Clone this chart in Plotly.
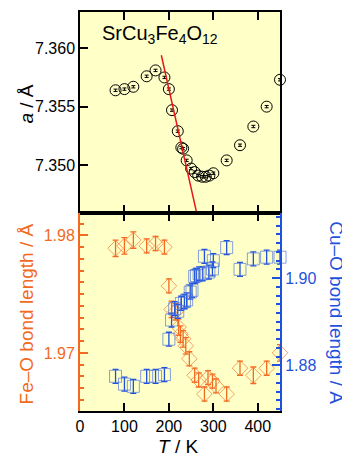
import plotly.graph_objects as go

# ---- data ----
T_a = [80, 100, 120, 150, 170, 190, 200, 207, 220, 228, 232, 240, 250, 258, 266, 275, 283, 291, 300, 330, 360, 390, 420, 450]
a_val = [7.3564, 7.3565, 7.3567, 7.3576, 7.3581, 7.3575, 7.3565, 7.3547, 7.3529, 7.3515, 7.3514, 7.3504,
         7.3497, 7.3494, 7.3491, 7.3490, 7.3490, 7.3491, 7.3493, 7.3504, 7.3517, 7.3533, 7.3550, 7.3573]
a_err = [0.0001] * len(T_a)

fit_T = [183, 262]
fit_a = [7.3594, 7.3460]

T_fe = [80, 100, 120, 150, 170, 190, 200, 206, 215, 222, 226, 232, 238, 246, 258, 267, 280, 288, 298, 306, 330, 360, 390, 420, 450]
fe_val = [1.9789, 1.9791, 1.9796, 1.9791, 1.9793, 1.9790, 1.9757, 1.9737, 1.9735, 1.9722, 1.9716, 1.9712, 1.9706,
          1.9695, 1.9681, 1.9677, 1.9665, 1.9679, 1.9676, 1.9672, 1.9665, 1.9687, 1.9681, 1.9687, 1.9700]
fe_err = [0.0007, 0.0007, 0.0007, 0.0006, 0.0006, 0.0006, 0.0006, 0.0007, 0.0007, 0.0007, 0.0007, 0.0007, 0.0007,
          0.0006, 0.0006, 0.0006, 0.0006, 0.0006, 0.0006, 0.0006, 0.0006, 0.0006, 0.0007, 0.0006, 0.0007]

T_cu = [80, 100, 120, 150, 170, 190, 200, 206, 213, 220, 228, 235, 240, 248, 252, 258, 262, 268, 276, 280, 290, 298, 300, 330, 360, 390, 420, 450]
cu_val = [1.8775, 1.8757, 1.8752, 1.8775, 1.8775, 1.8779, 1.8860, 1.8904, 1.8930, 1.8924, 1.8942, 1.8946, 1.8950,
          1.8968, 1.8972, 1.9004, 1.9006, 1.9010, 1.9010, 1.9050, 1.9014, 1.9021, 1.9040, 1.9070, 1.9020, 1.9044, 1.9048, 1.9048]
cu_err = [0.0016] * len(T_cu)

x_ticks = [0, 100, 200, 300, 400]

ORANGE = '#F26A21'
BLUE = '#1F52DC'
FONT = 'Liberation Sans, Arial, Helvetica, sans-serif'

fig = go.Figure()

fig.add_trace(go.Scatter(
    x=T_a, y=a_val, mode='markers', xaxis='x', yaxis='y', cliponaxis=False,
    marker=dict(symbol='circle-open', size=11, color='black', line=dict(width=1, color='black')),
    error_y=dict(type='data', array=a_err, color='black', thickness=1, width=2),
    showlegend=False))

fig.add_trace(go.Scatter(
    x=fit_T, y=fit_a, mode='lines', xaxis='x', yaxis='y',
    line=dict(color='#E8161B', width=1.5), showlegend=False))

fig.add_trace(go.Scatter(
    x=T_fe, y=fe_val, mode='markers', xaxis='x2', yaxis='y2', cliponaxis=False,
    marker=dict(symbol='diamond-open', size=12, color='rgba(242,120,50,0.7)',
                line=dict(width=1, color='rgba(242,120,50,0.7)')),
    error_y=dict(type='data', array=fe_err, color=ORANGE, thickness=1.3, width=3),
    showlegend=False))

fig.add_trace(go.Scatter(
    x=T_cu, y=cu_val, mode='markers', xaxis='x2', yaxis='y3', cliponaxis=False,
    marker=dict(symbol='square-open', size=12, color='rgba(70,110,225,0.65)',
                line=dict(width=1, color='rgba(70,110,225,0.65)')),
    error_y=dict(type='data', array=cu_err, color=BLUE, thickness=1.3, width=3),
    showlegend=False))

common_x = dict(range=[0, 450], ticks='inside', ticklen=8, tickwidth=1.5, tickcolor='black',
                showline=True, linecolor='black', linewidth=1.5, mirror='ticks',
                showgrid=False, zeroline=False)

SPLIT = 0.4963

# page body has an 8px margin, so the figure is 8px smaller and margins shifted
fig.update_layout(
    width=342, height=449,
    margin=dict(l=72, r=70, t=2, b=46),
    paper_bgcolor='white',
    plot_bgcolor='#FFFFC8',
    font=dict(family=FONT, size=16, color='black'),
    xaxis=dict(domain=[0, 1], anchor='y', showticklabels=False,
               tickvals=x_ticks[1:], **common_x),
    yaxis=dict(domain=[SPLIT, 1], anchor='x', range=[7.3459, 7.3631],
               tickvals=[7.350, 7.355, 7.360], ticktext=['7.350', '7.355', '7.360'],
               ticks='inside', ticklen=8, tickwidth=1.5, tickcolor='black',
               showline=True, linecolor='black', linewidth=1.5, mirror=True,
               showgrid=False, zeroline=False, tickfont=dict(size=16)),
    xaxis2=dict(domain=[0, 1], anchor='y2', tickvals=x_ticks,
                tickfont=dict(size=16), **common_x),
    yaxis2=dict(domain=[0, SPLIT], anchor='x2', range=[1.96506, 1.9819],
                tick0=1.97, dtick=0.01, tickformat='.2f',
                ticks='inside', ticklen=8, tickwidth=1.5, tickcolor=ORANGE,
                minor=dict(dtick=0.001, tick0=1.97, ticks='inside', ticklen=4, tickwidth=1.5, tickcolor=ORANGE),
                showline=True, linecolor=ORANGE, linewidth=2,
                showgrid=False, zeroline=False, tickfont=dict(size=16, color=ORANGE)),
    yaxis3=dict(overlaying='y2', side='right', anchor='x2', range=[1.86955, 1.91493],
                tick0=1.88, dtick=0.02, tickformat='.2f',
                ticks='inside', ticklen=8, tickwidth=1.5, tickcolor=BLUE,
                minor=dict(dtick=0.002, tick0=1.88, ticks='inside', ticklen=4, tickwidth=1.5, tickcolor=BLUE),
                showline=True, linecolor=BLUE, linewidth=2,
                showgrid=False, zeroline=False, tickfont=dict(size=16, color=BLUE)),
    annotations=[
        dict(text='SrCu<sub>3</sub>Fe<sub>4</sub>O<sub>12</sub>', xref='paper', yref='paper',
             x=0.1, y=0.943, xanchor='left', yanchor='middle', showarrow=False,
             font=dict(size=20, color='black', family=FONT)),
        dict(text='<i>a</i> / Å', xref='paper', yref='paper', x=-0.265, y=0.768,
             xanchor='center', yanchor='middle', textangle=-90, showarrow=False,
             font=dict(size=19, color='black', family=FONT)),
        dict(text='Fe–O bond length / Å', xref='paper', yref='paper', x=-0.27, y=0.242,
             xanchor='center', yanchor='middle', textangle=-90, showarrow=False,
             font=dict(size=19, color=ORANGE, family=FONT)),
        dict(text='Cu–O bond length / Å', xref='paper', yref='paper', x=1.285, y=0.2476,
             xanchor='center', yanchor='middle', textangle=90, showarrow=False,
             font=dict(size=19, color=BLUE, family=FONT)),
        dict(text='<i>T</i> / K', xref='paper', yref='paper', x=0.49, y=-0.088,
             xanchor='center', yanchor='middle', showarrow=False,
             font=dict(size=19, color='black', family=FONT)),
    ],
)

fig.write_html('out.html')
